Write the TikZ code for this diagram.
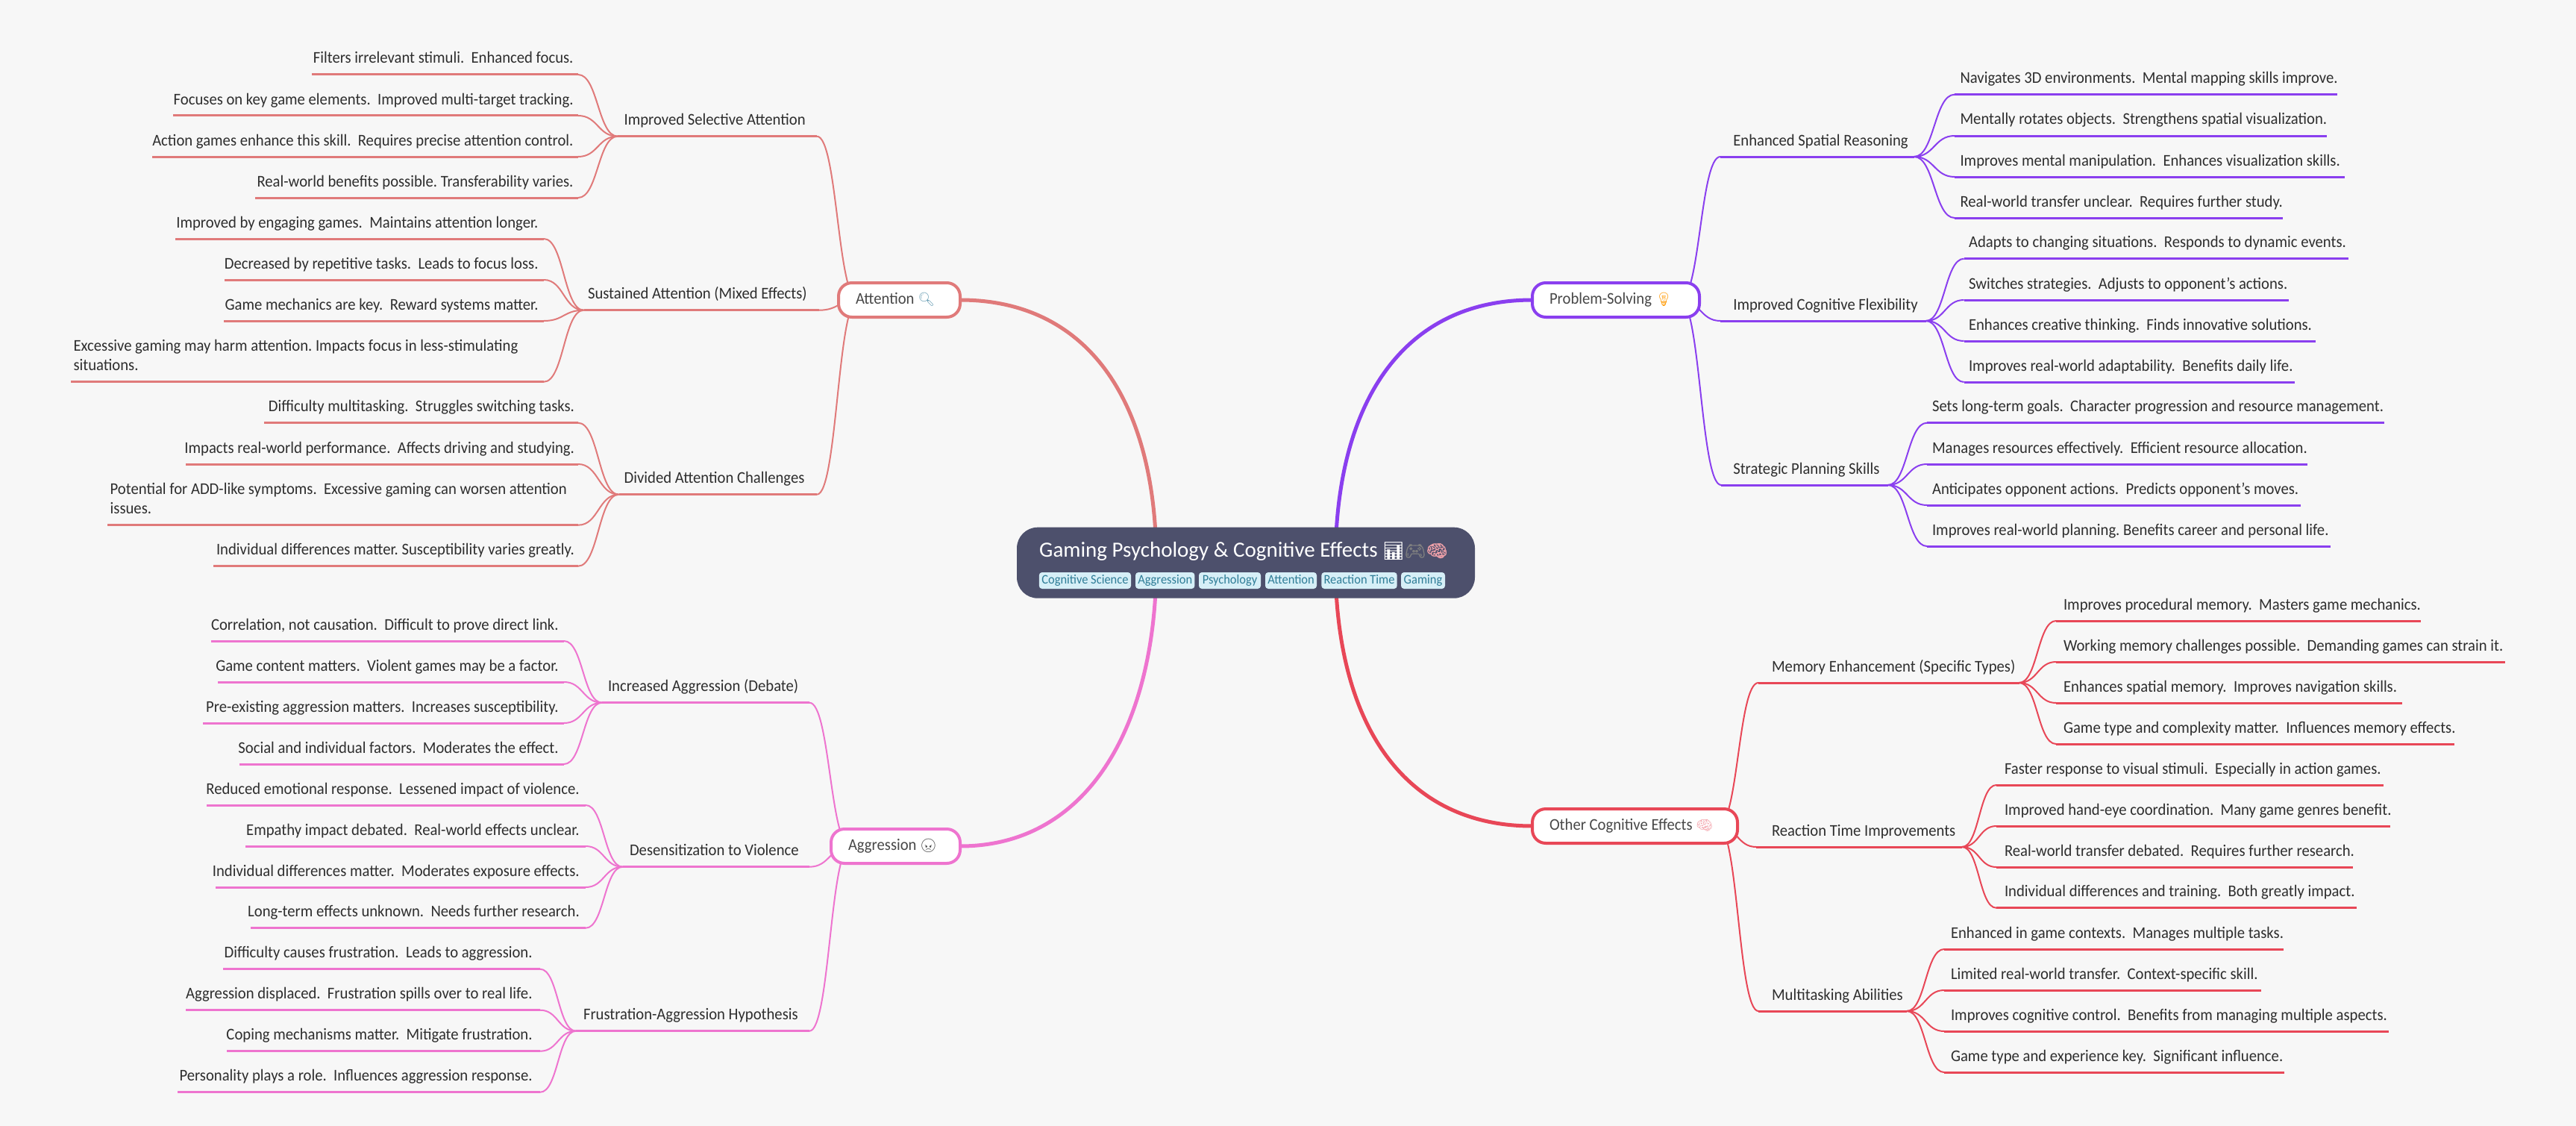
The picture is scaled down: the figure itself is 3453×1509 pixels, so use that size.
\documentclass[tikz,border=0pt]{standalone}
\usepackage{fontspec}
\setmainfont{Carlito}[FakeStretch=0.94]
\newfontfamily\titlefam{Carlito}
\newfontfamily\emo{Noto Emoji}
\newfontfamily\emob{Noto Emoji}[FakeBold=1.2]
\usetikzlibrary{calc}
\pgfdeclarelayer{bgzero}
\pgfdeclarelayer{links}
\pgfsetlayers{bgzero,links,main}
\definecolor{pagebg}{HTML}{F7F7F7}
\definecolor{cA}{HTML}{E07A7A}
\definecolor{cP}{HTML}{8A3FEF}
\definecolor{cG}{HTML}{EE74CF}
\definecolor{cO}{HTML}{E84757}
\definecolor{rootfill}{HTML}{4D506C}
\definecolor{tagfill}{HTML}{D6EFF7}
\definecolor{tagtext}{HTML}{2F7D97}
\definecolor{ink}{HTML}{2E2E2E}
\definecolor{boxink}{HTML}{484848}
\tikzset{
  txt/.style={inner sep=0pt,outer sep=0pt,text=ink,font=\fontsize{22}{26}\selectfont,align=left},
  boxn/.style={draw=#1,fill=white,line width=4pt,rounded corners=18pt,inner xsep=23pt,inner ysep=0pt,outer sep=0pt,
     text height=15pt,text depth=5pt,minimum height=46pt,align=left,text=boxink,font=\fontsize{22}{26}\selectfont},
  tagn/.style={fill=tagfill,rounded corners=4pt,inner sep=0pt,outer sep=0pt,text=tagtext,minimum height=22pt,
     text height=12pt,text depth=4pt,font=\fontsize{17.5}{20}\selectfont},
  under/.style={draw=#1,line width=3pt},
  curv/.style={draw=#1,line width=2pt},
  main/.style={draw=#1,line width=5pt}
}
\frenchspacing
\newcommand\sig[3]{%
  \coordinate (tmpm) at ($(#1)!.5!(#2)$);
  \draw[curv=#3] (#1) .. controls (tmpm |- #1) and (tmpm |- #2) .. (#2);
}
% name, box origin, colour, outer x, y, hub x, label x, text
\newcommand\branch[8]{%
  \coordinate (#1o) at (#4,#5);
  \coordinate (#1) at (#6,#5);
  \node[txt,anchor=base west] (#1t) at (#7,#5-15) {#8};
  \begin{pgfonlayer}{links}
  \sig{#2}{#1o}{#3}
  \draw[under=#3] (#1o) -- (#1);
  \end{pgfonlayer}
}
% name, hub, colour, y, text x, anchor, corner x, end x, text
\newcommand\leaf[9]{%
  \coordinate (#1c) at (#7,#4);
  \coordinate (#1e) at (#8,#4);
  \node[txt,anchor=#6] (#1) at (#5,#4-15) {#9};
  \begin{pgfonlayer}{links}
  \sig{#2}{#1c}{#3}
  \draw[under=#3] (#1c) -- (#1e);
  \end{pgfonlayer}
}
\newcommand\tagbox[4]{\node[tagn,minimum width=#3pt-#2pt] (#1) at ({(#2+#3)/2},778) {#4};}
\newcommand\emj[2]{{\fontsize{18}{20}\emo\selectfont\textcolor{#1}{#2}}}
\newcommand\emt[2]{{\fontsize{23}{26}\emob\selectfont\textcolor{#1}{#2}}}
\newcommand\natsp{\spaceskip=0pt\relax\xspaceskip=0pt\relax}
\begin{document}
\begin{tikzpicture}[x=1pt,y=-1pt]
\useasboundingbox (0,0) rectangle (3453,1509);
\begin{pgfonlayer}{bgzero}
\fill[pagebg] (0,0) rectangle (3453,1509);
\end{pgfonlayer}

% root
\node[fill=rootfill,rounded corners=28pt,minimum width=614pt,minimum height=95pt,inner sep=0pt,outer sep=0pt] (root) at (1670,754.2) {};
\node[inner sep=0pt,anchor=base west,text=white,font=\titlefam\fontsize{29}{34}\selectfont] (title) at (1393,746)
  {Gaming Psychology \& Cognitive Effects \emt{white}{📊}\emt{gray}{🎮}\emt{cO!50}{🧠}};
\tagbox{t1}{1392.8}{1516}{Cognitive Science}
\tagbox{t2}{1522}{1601.4}{Aggression}
\tagbox{t3}{1607}{1690}{Psychology}
\tagbox{t4}{1696}{1765}{Attention}
\tagbox{t5}{1771.3}{1872.7}{Reaction Time}
\tagbox{t6}{1878}{1937}{Gaming}

% main boxes
\node[boxn=cA,minimum width=163pt,text width=117pt] (att) at (1205.5,402) {\natsp\mbox{Attention \emj{cyan!40!gray}{🔍}}};
\node[boxn=cP,minimum width=224pt,text width=178pt] (pro) at (2166,402) {\natsp\mbox{Problem-Solving \emj{orange!80!yellow}{💡}}};
\node[boxn=cG,minimum width=173pt,text width=127pt] (agg) at (1200.5,1134) {\natsp\mbox{Aggression \emj{boxink}{😠}}};
\node[boxn=cO,minimum width=275pt,text width=229pt] (oth) at (2191.5,1107) {\natsp\mbox{Other Cognitive Effects \emj{cO!50}{🧠}}};

\coordinate (attO) at (1150,402);
\coordinate (proO) at (2252,402);
\coordinate (aggO) at (1140,1134);
\coordinate (othO) at (2303,1107);
\coordinate (rA) at (1550,754);
\coordinate (rP) at (1790,754);

\begin{pgfonlayer}{links}
\draw[main=cA] (att.east) .. controls (1460,402) and (1550,540) .. (rA);
\draw[main=cP] (pro.west) .. controls (1880,402) and (1790,540) .. (rP);
\draw[main=cG] (agg.east) .. controls (1460,1134) and (1550,970) .. (rA);
\draw[main=cO] (oth.west) .. controls (1880,1107) and (1790,968) .. (rP);
\end{pgfonlayer}

% Attention
\branch{sel}{attO}{cA}{1095}{182.7}{828}{836.6}{Improved Selective Attention}
\leaf{sel1}{sel}{cA}{100}{768.5}{base east}{775}{418}{Filters irrelevant stimuli.\ \ Enhanced focus.}
\leaf{sel2}{sel}{cA}{155}{768.5}{base east}{775}{232}{Focuses on key game elements.\ \ Improved multi-target tracking.}
\leaf{sel3}{sel}{cA}{210}{768.5}{base east}{775}{204}{Action games enhance this skill.\ \ Requires precise attention control.}
\leaf{sel4}{sel}{cA}{265}{768.5}{base east}{775}{342}{Real-world benefits possible. Transferability varies.}
\branch{sus}{attO}{cA}{1098}{415.7}{782.5}{788}{Sustained Attention (Mixed Effects)}
\leaf{sus1}{sus}{cA}{320}{721.5}{base east}{729}{234.7}{Improved by engaging games.\ \ Maintains attention longer.}
\leaf{sus2}{sus}{cA}{375}{721.5}{base east}{729}{301}{Decreased by repetitive tasks.\ \ Leads to focus loss.}
\leaf{sus3}{sus}{cA}{430}{721.5}{base east}{729}{300}{Game mechanics are key.\ \ Reward systems matter.}
\leaf{sus4}{sus}{cA}{511.7}{98.6}{base west}{729}{95}{Excessive gaming may harm attention. Impacts focus in less-stimulating\\situations.}
\branch{div}{attO}{cA}{1095}{662.7}{829.5}{836.6}{Divided Attention Challenges}
\leaf{div1}{div}{cA}{566.7}{770}{base east}{775}{354}{Difficulty multitasking.\ \ Struggles switching tasks.}
\leaf{div2}{div}{cA}{622}{770}{base east}{775}{248.7}{Impacts real-world performance.\ \ Affects driving and studying.}
\leaf{div3}{div}{cA}{703.7}{147.7}{base west}{775}{144}{Potential for ADD-like symptoms.\ \ Excessive gaming can worsen attention\\issues.}
\leaf{div4}{div}{cA}{758.7}{770}{base east}{775}{286}{Individual differences matter. Susceptibility varies greatly.}

% Aggression
\branch{inc}{aggO}{cG}{1085}{941.7}{807}{815}{Increased Aggression (Debate)}
\leaf{inc1}{inc}{cG}{859}{748.6}{base east}{756}{283}{Correlation, not causation.\ \ Difficult to prove direct link.}
\leaf{inc2}{inc}{cG}{914}{748.6}{base east}{756}{292}{Game content matters.\ \ Violent games may be a factor.}
\leaf{inc3}{inc}{cG}{969}{748.6}{base east}{756}{272}{Pre-existing aggression matters.\ \ Increases susceptibility.}
\leaf{inc4}{inc}{cG}{1024}{748.6}{base east}{756}{320.7}{Social and individual factors.\ \ Moderates the effect.}
\branch{des}{aggO}{cG}{1085}{1161.7}{834.7}{844}{Desensitization to Violence}
\leaf{des1}{des}{cG}{1079}{776.7}{base east}{785}{276.7}{Reduced emotional response.\ \ Lessened impact of violence.}
\leaf{des2}{des}{cG}{1134}{776.7}{base east}{785}{329}{Empathy impact debated.\ \ Real-world effects unclear.}
\leaf{des3}{des}{cG}{1189}{776.7}{base east}{785}{288.8}{Individual differences matter.\ \ Moderates exposure effects.}
\leaf{des4}{des}{cG}{1243.7}{776.7}{base east}{785}{336}{Long-term effects unknown.\ \ Needs further research.}
\branch{fru}{aggO}{cG}{1085}{1381.7}{772}{782}{Frustration-Aggression Hypothesis}
\leaf{fru1}{fru}{cG}{1298.7}{713.6}{base east}{724}{299}{Difficulty causes frustration.\ \ Leads to aggression.}
\leaf{fru2}{fru}{cG}{1353.7}{713.6}{base east}{724}{249}{Aggression displaced.\ \ Frustration spills over to real life.}
\leaf{fru3}{fru}{cG}{1408.7}{713.6}{base east}{724}{304}{Coping mechanisms matter.\ \ Mitigate frustration.}
\leaf{fru4}{fru}{cG}{1463.7}{713.6}{base east}{724}{238}{Personality plays a role.\ \ Influences aggression response.}

% Problem-Solving
\branch{spa}{proO}{cP}{2306}{210}{2565.7}{2323.3}{Enhanced Spatial Reasoning}
\leaf{spa1}{spa}{cP}{126.7}{2627.5}{base west}{2620}{3133}{Navigates 3D environments.\ \ Mental mapping skills improve.}
\leaf{spa2}{spa}{cP}{182}{2627.5}{base west}{2620}{3119}{Mentally rotates objects.\ \ Strengthens spatial visualization.}
\leaf{spa3}{spa}{cP}{237}{2627.5}{base west}{2620}{3143}{Improves mental manipulation.\ \ Enhances visualization skills.}
\leaf{spa4}{spa}{cP}{292}{2627.5}{base west}{2620}{3060}{Real-world transfer unclear.\ \ Requires further study.}
\branch{fle}{proO}{cP}{2306}{430}{2581.6}{2323.3}{Improved Cognitive Flexibility}
\leaf{fle1}{fle}{cP}{346.7}{2639}{base west}{2632.6}{3148}{Adapts to changing situations.\ \ Responds to dynamic events.}
\leaf{fle2}{fle}{cP}{402}{2639}{base west}{2632.6}{3068}{Switches strategies.\ \ Adjusts to opponent's actions.}
\leaf{fle3}{fle}{cP}{457}{2639}{base west}{2632.6}{3104}{Enhances creative thinking.\ \ Finds innovative solutions.}
\leaf{fle4}{fle}{cP}{512}{2639}{base west}{2632.6}{3076}{Improves real-world adaptability.\ \ Benefits daily life.}
\branch{str}{proO}{cP}{2307}{650}{2530.6}{2323.3}{Strategic Planning Skills}
\leaf{str1}{str}{cP}{566.7}{2590}{base west}{2583}{3196}{Sets long-term goals.\ \ Character progression and resource management.}
\leaf{str2}{str}{cP}{622}{2590}{base west}{2583}{3093}{Manages resources effectively.\ \ Efficient resource allocation.}
\leaf{str3}{str}{cP}{677}{2590}{base west}{2583}{3084}{Anticipates opponent actions.\ \ Predicts opponent's moves.}
\leaf{str4}{str}{cP}{732}{2590}{base west}{2583}{3124}{Improves real-world planning. Benefits career and personal life.}

% Other Cognitive Effects
\branch{mem}{othO}{cO}{2357}{915}{2706.5}{2375}{Memory Enhancement (Specific Types)}
\leaf{mem1}{mem}{cO}{832}{2766}{base west}{2756}{3245}{Improves procedural memory.\ \ Masters game mechanics.}
\leaf{mem2}{mem}{cO}{887}{2766}{base west}{2756}{3358}{Working memory challenges possible.\ \ Demanding games can strain it.}
\leaf{mem3}{mem}{cO}{942}{2766}{base west}{2756}{3220}{Enhances spatial memory.\ \ Improves navigation skills.}
\leaf{mem4}{mem}{cO}{997}{2766}{base west}{2756}{3290}{Game type and complexity matter.\ \ Influences memory effects.}
\branch{rea}{othO}{cO}{2354}{1135}{2630}{2375}{Reaction Time Improvements}
\leaf{rea1}{rea}{cO}{1052}{2687}{base west}{2676}{3195}{Faster response to visual stimuli.\ \ Especially in action games.}
\leaf{rea2}{rea}{cO}{1107}{2687}{base west}{2676}{3203.7}{Improved hand-eye coordination.\ \ Many game genres benefit.}
\leaf{rea3}{rea}{cO}{1162}{2687}{base west}{2676}{3154}{Real-world transfer debated.\ \ Requires further research.}
\leaf{rea4}{rea}{cO}{1216.7}{2687}{base west}{2676}{3159}{Individual differences and training.\ \ Both greatly impact.}
\branch{mul}{othO}{cO}{2357}{1355}{2556}{2375}{Multitasking Abilities}
\leaf{mul1}{mul}{cO}{1272}{2615}{base west}{2606}{3061}{Enhanced in game contexts.\ \ Manages multiple tasks.}
\leaf{mul2}{mul}{cO}{1327}{2615}{base west}{2606}{3031}{Limited real-world transfer.\ \ Context-specific skill.}
\leaf{mul3}{mul}{cO}{1382}{2615}{base west}{2606}{3202}{Improves cognitive control.\ \ Benefits from managing multiple aspects.}
\leaf{mul4}{mul}{cO}{1437}{2615}{base west}{2606}{3062}{Game type and experience key.\ \ Significant influence.}
\end{tikzpicture}
\end{document}
